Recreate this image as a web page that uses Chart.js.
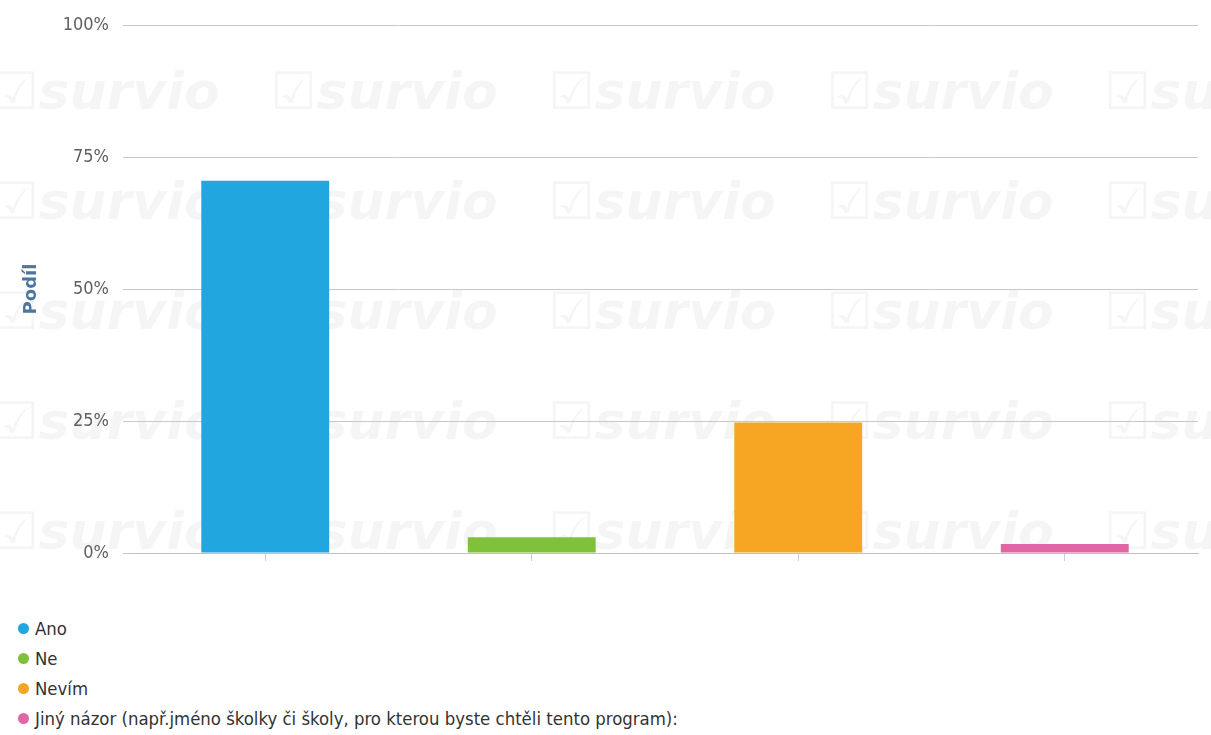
<!DOCTYPE html>
<html>
<head>
<meta charset="utf-8">
<script src="https://cdn.jsdelivr.net/npm/chart.js@4.4.1/dist/chart.umd.min.js"></script>
<style>
  html, body { margin: 0; padding: 0; background: #fff; }
  #wrap { position: relative; width: 1211px; height: 735px; overflow: hidden; }
  #box { position: absolute; left: 0; top: 0; width: 1211px; height: 580px; }
  #legend { position: absolute; left: 18px; top: 613px; margin: 0; padding: 0; list-style: none;
    font-family: "DejaVu Sans Condensed", "DejaVu Sans", sans-serif; font-size: 18.4px; color: #333; }
  #legend li { height: 30px; display: flex; align-items: center; }
  #legend span.dot { width: 11px; height: 11px; border-radius: 50%; display: inline-block; margin-right: 6px; }
</style>
</head>
<body>
<div id="wrap">
  <div id="box"><canvas id="c"></canvas></div>
  <ul id="legend"></ul>
</div>
<script>
// odpovědi a podíly (%)
const labels = ['Ano', 'Ne', 'Nevím', 'Jiný názor (např.jméno školky či školy, pro kterou byste chtěli tento program):'];
const shares = [70.5, 3.0, 24.7, 1.7];
const colors = ['#21a6df', '#80c13b', '#f6a623', '#e066a6'];
const yTicks = [0, 25, 50, 75, 100];

// slabý vodoznak v pozadí
const watermark = {
  id: 'watermark',
  beforeDraw(chart) {
    const c = chart.ctx;
    c.save();
    c.fillStyle = 'rgba(0,0,0,0.04)';
    c.font = 'italic bold 52px "DejaVu Sans", sans-serif';
    c.textBaseline = 'middle';
    for (let row = 0; row < 6; row++) {
      for (let col = 0; col < 5; col++) {
        c.fillText('\u2611survio', -8 + col * 278, 95 + row * 110);
      }
    }
    c.restore();
  }
};

const chart = new Chart(document.getElementById('c'), {
  type: 'bar',
  data: {
    labels: labels,
    datasets: [{
      label: 'Podíl',
      data: shares,
      backgroundColor: colors,
      categoryPercentage: 1,
      barPercentage: 0.48
    }]
  },
  plugins: [watermark],
  options: {
    responsive: true,
    maintainAspectRatio: false,
    animation: false,
    layout: { padding: { top: 25, right: 13, left: 0, bottom: 0 } },
    plugins: {
      legend: { display: false },
      tooltip: { enabled: false }
    },
    scales: {
      x: {
        afterFit: (s) => { s.height = 27; },
        grid: { offset: false, drawOnChartArea: false, drawTicks: true, tickLength: 8, color: '#c0d0e0' },
        border: { color: '#c0c0c0' },
        ticks: { callback: () => '' }
      },
      y: {
        min: 0,
        max: 100,
        afterFit: (s) => { s.width = 132; },
        afterBuildTicks: (s) => { s.ticks = yTicks.map(v => ({ value: v })); },
        title: {
          display: true,
          text: 'Podíl',
          color: '#4d759e',
          font: { family: "'DejaVu Sans'", size: 18, weight: 'bold' },
          padding: { top: 21, bottom: 0 }
        },
        ticks: {
          callback: (v) => `${v}%`,
          color: '#606060',
          padding: 14,
          font: { family: "'DejaVu Sans Condensed', 'DejaVu Sans'", size: 18 }
        },
        grid: { color: '#c8c8c8', tickLength: 9 },
        border: { display: false }
      }
    }
  }
});

// legenda jako seznam pod grafem
const ul = document.getElementById('legend');
labels.forEach((l, i) => {
  const li = document.createElement('li');
  li.innerHTML = `<span class="dot" style="background:${colors[i]}"></span>${l}`;
  ul.appendChild(li);
});
</script>
</body>
</html>
